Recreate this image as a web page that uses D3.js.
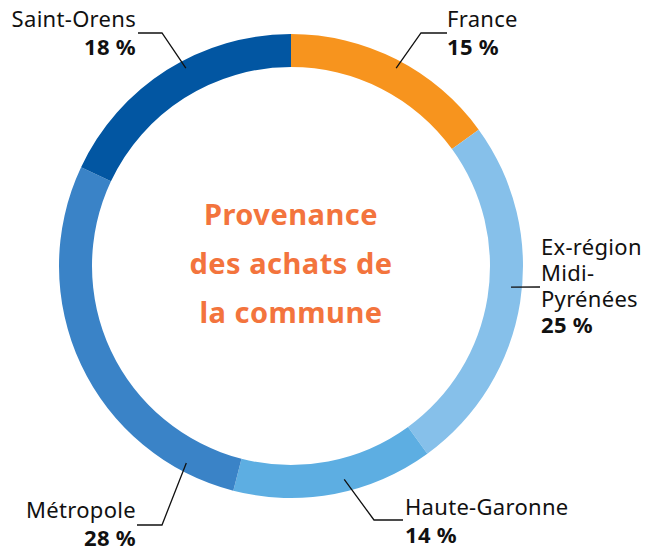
<!DOCTYPE html>
<html><head><meta charset="utf-8">
<script src="https://cdn.jsdelivr.net/npm/d3@7"></script>
<style>
html,body{margin:0;padding:0;background:#fff;}
svg{display:block;}
</style></head>
<body>
<svg id="chart" width="655" height="548"></svg>
<script>
// Data
const categories = ["France", "Ex-région Midi-Pyrénées", "Haute-Garonne", "Métropole", "Saint-Orens"];
const values = [15, 25, 14, 28, 18];
const labelLines = [["France"], ["Ex-région", "Midi-", "Pyrénées"], ["Haute-Garonne"], ["Métropole"], ["Saint-Orens"]];
const colors = ["#F7941E", "#86C0EA", "#5DAEE2", "#3A83C7", "#0256A2"];
const title = ["Provenance", "des achats de", "la commune"];

// Layout
const W = 655, H = 548, cx = 291, cy = 266, rOuter = 232, rInner = 199;
const leaders = [
  {ang: 28,  r: 224, elbow: [421, 33], end: [447, 33], tx: 447, ty: 27, anchor: "start"},
  {ang: 95.5,r: 221, elbow: null,      end: [540, 287], tx: 541, ty: 255, anchor: "start"},
  {ang: 166, r: 220, elbow: [374, 520], end: [403, 520], tx: 405, ty: 515, anchor: "start"},
  {ang: 208, r: 223, elbow: [162, 525], end: [137, 525], tx: 136, ty: 518, anchor: "end"},
  {ang: 332, r: 224, elbow: [162, 33], end: [138, 33], tx: 136, ty: 27, anchor: "end"}
];

const svg = d3.select("#chart");
const g = svg.append("g").attr("transform", `translate(${cx},${cy})`);

const pie = d3.pie().sort(null).value(d => d)(values);
const arc = d3.arc().innerRadius(rInner).outerRadius(rOuter);

g.selectAll("path.slice").data(pie).join("path")
  .attr("class", "slice")
  .attr("d", arc)
  .attr("fill", (d, i) => colors[i]);

const font = "'Noto Sans', Lato, sans-serif";

leaders.forEach((L, i) => {
  const a = L.ang * Math.PI / 180;
  const sx = cx + L.r * Math.sin(a), sy = cy - L.r * Math.cos(a);
  const pts = [[sx, sy]];
  if (L.elbow) pts.push(L.elbow);
  pts.push(L.end);
  svg.append("path")
    .attr("d", d3.line()(pts))
    .attr("fill", "none").attr("stroke", "#111").attr("stroke-width", 1.3);
  const t = svg.append("text")
    .attr("x", L.tx).attr("y", L.ty)
    .attr("text-anchor", L.anchor)
    .attr("font-family", font).attr("font-size", 22).attr("fill", "#111")
    .attr("letter-spacing", 0.3);
  const lines = labelLines[i];
  lines.forEach((ln, j) => {
    t.append("tspan").attr("x", L.tx).attr("dy", j === 0 ? 0 : 26).text(ln);
  });
  t.append("tspan").attr("x", L.tx).attr("dy", lines.length > 1 ? 26 : 27.5)
    .attr("font-weight", "bold").text(values[i] + " %");
});

const ct = svg.append("text")
  .attr("x", cx).attr("y", 225)
  .attr("text-anchor", "middle")
  .attr("font-family", font).attr("font-size", 29).attr("font-weight", "bold")
  .attr("fill", "#F3743D").attr("letter-spacing", 0.5);
title.forEach((ln, j) => {
  ct.append("tspan").attr("x", cx).attr("dy", j === 0 ? 0 : 49).text(ln);
});
</script>
</body></html>
